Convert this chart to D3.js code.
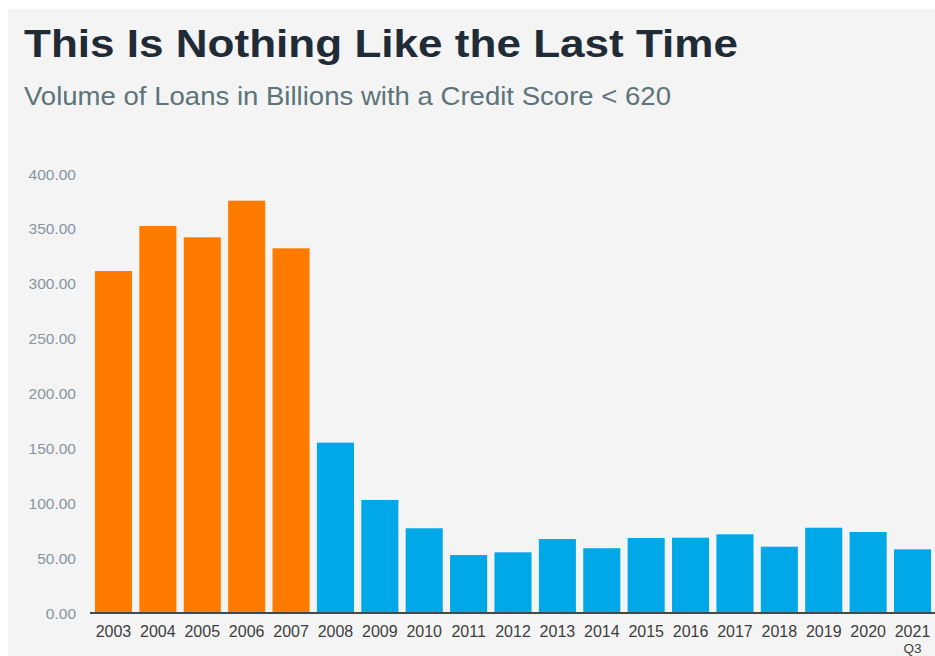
<!DOCTYPE html>
<html>
<head>
<meta charset="utf-8">
<style>
  body { margin: 0; background: #fff; }
  text { font-family: "Liberation Sans", Arial, sans-serif; }
</style>
</head>
<body>
<script src="https://d3js.org/d3.v7.min.js"></script>
<script>
// data
const years = ["2003","2004","2005","2006","2007","2008","2009","2010","2011","2012",
               "2013","2014","2015","2016","2017","2018","2019","2020","2021"];
const volumes = [311.6, 352.6, 342.3, 375.7, 332.3, 155.2, 103.0, 77.2, 52.8, 55.3,
                 67.4, 59.0, 68.3, 68.6, 71.7, 60.4, 77.7, 73.8, 58.0];
const yTicks = [0, 50, 100, 150, 200, 250, 300, 350, 400];
const lastBubble = 2007; // orange up to here

const width = 935, height = 656;

const svg = d3.select("body").append("svg")
    .attr("width", width)
    .attr("height", height);

svg.append("rect")
    .attr("x", 8).attr("y", 9)
    .attr("width", width - 8).attr("height", height - 9)
    .attr("fill", "#f4f4f4");

svg.append("text")
    .attr("x", 24).attr("y", 57)
    .attr("font-size", 38).attr("font-weight", "bold")
    .attr("fill", "#1f2b36")
    .attr("textLength", 714).attr("lengthAdjust", "spacingAndGlyphs")
    .text("This Is Nothing Like the Last Time");

svg.append("text")
    .attr("x", 24).attr("y", 105)
    .attr("font-size", 25.5)
    .attr("fill", "#5c7479")
    .attr("textLength", 647).attr("lengthAdjust", "spacingAndGlyphs")
    .text("Volume of Loans in Billions with a Credit Score < 620");

const x = d3.scaleBand()
    .domain(years)
    .range([91.4, 934.6])
    .paddingInner(0.165)
    .paddingOuter(0.08);

const y = d3.scaleLinear()
    .domain([0, 400])
    .range([613, 174]);

// y tick labels (no axis line)
svg.append("g")
  .selectAll("text")
  .data(yTicks)
  .join("text")
    .attr("x", 76)
    .attr("y", d => y(d))
    .attr("dy", "0.36em")
    .attr("text-anchor", "end")
    .attr("font-size", 15.5)
    .attr("fill", "#8794a0")
    .text(d => d.toFixed(2));

svg.append("g")
  .selectAll("rect")
  .data(years)
  .join("rect")
    .attr("x", d => x(d))
    .attr("y", (d, i) => y(volumes[i]))
    .attr("width", x.bandwidth())
    .attr("height", (d, i) => y(0) - y(volumes[i]))
    .attr("fill", d => +d <= lastBubble ? "#ff7b00" : "#00a8e8");

// baseline
svg.append("line")
    .attr("x1", 90).attr("x2", width)
    .attr("y1", y(0)).attr("y2", y(0))
    .attr("stroke", "#3e4a52").attr("stroke-width", 2);

svg.append("g")
  .selectAll("text")
  .data(years)
  .join("text")
    .attr("x", d => x(d) + x.bandwidth() / 2)
    .attr("y", 637)
    .attr("text-anchor", "middle")
    .attr("font-size", 16)
    .attr("fill", "#3d3d3d")
    .text(d => d);

svg.append("text")
    .attr("x", x("2021") + x.bandwidth() / 2)
    .attr("y", 653)
    .attr("text-anchor", "middle")
    .attr("font-size", 13.5)
    .attr("fill", "#3d3d3d")
    .text("Q3");
</script>
</body>
</html>
